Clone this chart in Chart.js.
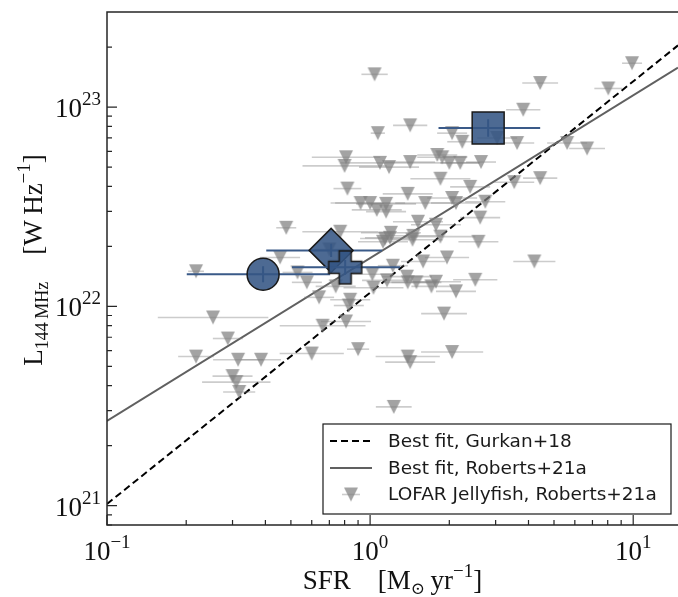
<!DOCTYPE html>
<html>
<head>
<meta charset="utf-8">
<script src="https://cdn.jsdelivr.net/npm/chart.js@4.4.0/dist/chart.umd.min.js"></script>
<style>
  html, body { margin: 0; padding: 0; background: #fff; }
  #wrap { width: 678px; height: 597px; }
</style>
</head>
<body>
<div id="wrap"><canvas id="chart" width="678" height="597"></canvas></div>
<script>
// LOFAR jellyfish, Roberts+21a: SFR [Msun/yr], L144 [W/Hz], SFR error half width [dex]
const jellySfr = [
    1.04, 1.07, 1.42, 2.05, 2.24, 3.04, 3.62, 3.82, 4.43, 8.04,
    9.9, 5.61, 6.68, 0.81, 0.80, 1.09, 1.18, 1.42, 1.80, 1.88,
    2.00, 2.20, 2.64, 0.82, 0.92, 1.00, 1.06, 1.15, 1.15, 1.39,
    1.62, 1.85, 2.05, 2.12, 2.40, 2.74, 2.62, 3.53, 4.43, 1.52,
    1.78, 0.77, 1.20, 1.14, 1.46, 2.58, 0.48, 0.455, 0.70, 0.218,
    0.53, 0.575, 0.64, 0.74, 0.84, 0.83, 0.81, 0.66, 0.60, 0.90,
    1.02, 1.16, 1.22, 1.38, 1.39, 1.50, 1.71, 1.78, 2.12, 2.51,
    1.96, 1.59, 1.12, 1.19, 1.45, 1.85, 1.91, 1.39, 1.42, 2.05,
    1.23, 4.21, 0.253, 0.288, 0.218, 0.315, 0.385, 0.30, 0.31, 0.318,
    1.03
];
const jellyLum = [
    1.46e23, 7.4e22, 8.1e22, 7.4e22, 6.7e22, 7.0e22, 6.6e22, 9.7e22, 1.32e23, 1.24e23,
    1.66e23, 6.6e22, 6.2e22, 5.6e22, 5.07e22, 5.25e22, 5.0e22, 5.3e22, 5.75e22, 5.6e22,
    5.25e22, 5.25e22, 5.3e22, 3.9e22, 3.3e22, 3.3e22, 3.05e22, 3.27e22, 2.99e22, 3.67e22,
    3.3e22, 4.37e22, 3.5e22, 3.3e22, 3.98e22, 3.35e22, 2.79e22, 4.2e22, 4.4e22, 2.66e22,
    2.57e22, 2.37e22, 2.34e22, 2.19e22, 2.26e22, 2.11e22, 2.48e22, 1.76e22, 1.93e22, 1.50e22,
    1.48e22, 1.32e22, 1.11e22, 1.26e22, 1.08e22, 1.01e22, 8.4e21, 8.0e21, 5.8e21, 6.1e21,
    1.45e22, 1.35e22, 1.60e22, 1.41e22, 1.32e22, 1.32e22, 1.26e22, 1.33e22, 1.19e22, 1.36e22,
    1.76e22, 1.68e22, 2.11e22, 2.21e22, 2.16e22, 2.24e22, 9.2e21, 5.6e21, 5.25e21, 5.9e21,
    3.13e21, 1.68e22, 8.8e21, 6.9e21, 5.6e21, 5.4e21, 5.4e21, 4.47e21, 4.17e21, 3.72e21,
    1.24e22
];
const jellyErrDex = [
    0.05, 0.027, 0.065, 0.057, 0.057, 0.076, 0.065, 0.065, 0.068, 0.053,
    0.038, 0.076, 0.068, 0.13, 0.16, 0.15, 0.114, 0.095, 0.076, 0.095,
    0.114, 0.076, 0.057, 0.053, 0.114, 0.133, 0.095, 0.114, 0.076, 0.095,
    0.114, 0.114, 0.095, 0.095, 0.076, 0.076, 0.076, 0.076, 0.065, 0.095,
    0.095, 0.144, 0.114, 0.095, 0.114, 0.076, 0.038, 0.076, 0.057, 0.03,
    0.057, 0.057, 0.057, 0.076, 0.076, 0.057, 0.095, 0.163, 0.122, 0.042,
    0.076, 0.095, 0.057, 0.095, 0.095, 0.095, 0.076, 0.095, 0.076, 0.084,
    0.084, 0.084, 0.095, 0.095, 0.114, 0.133, 0.087, 0.122, 0.095, 0.118,
    0.068, 0.08, 0.21, 0.057, 0.068, 0.095, 0.076, 0.076, 0.13, 0.061,
    0.114
];

// the four highlighted galaxies: circle, diamond, plus, square
const highSfr = [0.392, 0.711, 0.804, 2.81];
const highSfrLow = [0.201, 0.403, 0.505, 1.82];
const highSfrHigh = [0.705, 1.11, 1.30, 4.43];
const highLum = [1.45e22, 1.91e22, 1.57e22, 7.85e22];
const highLumLow = [1.32e22, 1.77e22, 1.44e22, 7.1e22];
const highLumHigh = [1.59e22, 2.06e22, 1.71e22, 8.7e22];

// best fit lines (end points at the plot edges)
const fitSfr = [0.1, 14.8];
const gurkanLum = [1.02e21, 2.04e23];
const robertsLum = [2.66e21, 1.58e23];

// tick labels
const xTicks = [0.1, 1, 10];
const xTickExp = ['\u22121', '0', '1'];
const yTicks = [1e21, 1e22, 1e23];
const yTickExp = ['21', '22', '23'];

const legendLabels = ['Best fit, Gurkan+18', 'Best fit, Roberts+21a', 'LOFAR Jellyfish, Roberts+21a'];

const blueFill = 'rgba(52, 85, 132, 0.88)';
const blueBar = '#3a5a88';
const edgeCol = '#1a1a1a';
const greyFill = 'rgba(128, 128, 128, 0.72)';
const greyBar = 'rgba(128, 128, 128, 0.4)';
const serif = '"Liberation Serif", "DejaVu Serif", serif';
const sans = '"DejaVu Sans", sans-serif';

// filled plus marker (no built-in one in Chart.js)
function makePlus(half, arm) {
    const s = Math.ceil(half * 2 + 4);
    const c = document.createElement('canvas');
    c.width = s; c.height = s;
    const g = c.getContext('2d');
    const m = s / 2;
    g.beginPath();
    g.moveTo(m - arm, m - half); g.lineTo(m + arm, m - half); g.lineTo(m + arm, m - arm);
    g.lineTo(m + half, m - arm); g.lineTo(m + half, m + arm); g.lineTo(m + arm, m + arm);
    g.lineTo(m + arm, m + half); g.lineTo(m - arm, m + half); g.lineTo(m - arm, m + arm);
    g.lineTo(m - half, m + arm); g.lineTo(m - half, m - arm); g.lineTo(m - arm, m - arm);
    g.closePath();
    g.fillStyle = blueFill; g.fill();
    g.strokeStyle = edgeCol; g.lineWidth = 1.5; g.stroke();
    return c;
}

// downward triangle, as wide as it is tall (matplotlib 'v')
function makeTri(half) {
    const s = Math.ceil(half * 2 + 2);
    const c = document.createElement('canvas');
    c.width = s; c.height = s;
    const g = c.getContext('2d');
    const m = s / 2;
    g.beginPath();
    g.moveTo(m - half, m - half); g.lineTo(m + half, m - half); g.lineTo(m, m + half);
    g.closePath();
    g.fillStyle = greyFill; g.fill();
    return c;
}
const triImg = makeTri(7);

const jellyPoints = jellySfr.map((x, i) => ({ x: x, y: jellyLum[i], e: jellyErrDex[i] }));
const highStyles = ['circle', 'rectRot', makePlus(16.5, 6), 'rect'];
const highRadius = [16, 22, 16, 22.6];
const highOrder = [2, 1, 0, 3];

const datasets = [
    {
        label: legendLabels[0],
        data: fitSfr.map((x, i) => ({ x: x, y: gurkanLum[i] })),
        showLine: true, borderColor: '#000', borderWidth: 2, borderDash: [7, 4],
        pointRadius: 0, order: 20
    },
    {
        label: legendLabels[1],
        data: fitSfr.map((x, i) => ({ x: x, y: robertsLum[i] })),
        showLine: true, borderColor: '#606060', borderWidth: 2,
        pointRadius: 0, order: 19
    },
    {
        label: legendLabels[2],
        data: jellyPoints,
        pointStyle: triImg, pointRadius: 7,
        borderWidth: 0, order: 10,
        errKind: 'grey'
    }
];
highSfr.forEach((x, i) => {
    datasets.push({
        label: 'galaxy ' + i,
        data: [{ x: x, y: highLum[i] }],
        pointStyle: highStyles[i], pointRadius: highRadius[i],
        backgroundColor: blueFill, borderColor: edgeCol, borderWidth: 1.5,
        order: highOrder[i], errKind: 'blue', galaxy: i
    });
});

// error bars, drawn just before the dataset they belong to
const errorBars = {
    id: 'errorBars',
    beforeDatasetDraw(chart, args) {
        const ds = chart.data.datasets[args.index];
        if (!ds.errKind) return;
        const ctx = chart.ctx, xs = chart.scales.x, ys = chart.scales.y;
        const a = chart.chartArea;
        ctx.save();
        ctx.beginPath();
        ctx.rect(a.left, a.top, a.right - a.left, a.bottom - a.top);
        ctx.clip();
        if (ds.errKind === 'grey') {
            ctx.strokeStyle = greyBar;
            ctx.lineWidth = 1.6;
            ds.data.forEach(p => {
                const f = Math.pow(10, p.e);
                const y = ys.getPixelForValue(p.y);
                ctx.beginPath();
                ctx.moveTo(xs.getPixelForValue(p.x / f), y);
                ctx.lineTo(xs.getPixelForValue(p.x * f), y);
                ctx.stroke();
            });
        } else {
            const i = ds.galaxy;
            const px = xs.getPixelForValue(highSfr[i]);
            const py = ys.getPixelForValue(highLum[i]);
            ctx.strokeStyle = blueBar;
            ctx.lineWidth = 2;
            ctx.beginPath();
            ctx.moveTo(xs.getPixelForValue(highSfrLow[i]), py);
            ctx.lineTo(xs.getPixelForValue(highSfrHigh[i]), py);
            ctx.moveTo(px, ys.getPixelForValue(highLumLow[i]));
            ctx.lineTo(px, ys.getPixelForValue(highLumHigh[i]));
            ctx.stroke();
        }
        ctx.restore();
    }
};

// draw text pieces with sub/superscripts: parts = [[text, size, dy], ...]
function richWidth(ctx, parts, family) {
    let w = 0;
    parts.forEach(p => { ctx.font = p[1] + 'px ' + family; w += ctx.measureText(p[0]).width; });
    return w;
}
function drawRich(ctx, parts, x, y, family) {
    let cx = x;
    ctx.textAlign = 'left';
    ctx.textBaseline = 'alphabetic';
    parts.forEach(p => {
        ctx.font = p[1] + 'px ' + family;
        ctx.fillText(p[0], cx, y + p[2]);
        cx += ctx.measureText(p[0]).width;
    });
}

const axesDeco = {
    id: 'axesDeco',
    afterDraw(chart) {
        const ctx = chart.ctx, xs = chart.scales.x, ys = chart.scales.y;
        const a = chart.chartArea;
        ctx.save();
        ctx.strokeStyle = '#262626';
        ctx.lineWidth = 1.5;
        // frame: left, bottom, top (right side is cut off)
        ctx.beginPath();
        ctx.moveTo(a.right + 2, a.top); ctx.lineTo(a.left, a.top);
        ctx.lineTo(a.left, a.bottom); ctx.lineTo(a.right + 2, a.bottom);
        ctx.stroke();

        // inward ticks
        ctx.lineWidth = 1.2;
        ctx.beginPath();
        for (let d = -1; d <= 1; d++) {
            for (let k = 1; k <= 9; k++) {
                const v = k * Math.pow(10, d);
                if (v > xs.max) continue;
                const px = xs.getPixelForValue(v);
                const len = k === 1 ? 10 : 5;
                ctx.moveTo(px, a.bottom); ctx.lineTo(px, a.bottom - len);
            }
        }
        for (let d = 20; d <= 23; d++) {
            for (let k = 1; k <= 9; k++) {
                const v = k * Math.pow(10, d);
                if (v < ys.min || v > ys.max * 0.98) continue;
                const py = ys.getPixelForValue(v);
                const len = k === 1 ? 10 : 5;
                ctx.moveTo(a.left, py); ctx.lineTo(a.left + len, py);
            }
        }
        ctx.stroke();

        // tick labels 10^n
        ctx.fillStyle = '#111';
        xTicks.forEach((v, i) => {
            const parts = [['10', 27, 0], [xTickExp[i], 19, -12]];
            const w = richWidth(ctx, parts, serif);
            drawRich(ctx, parts, xs.getPixelForValue(v) - w / 2, 560, serif);
        });
        yTicks.forEach((v, i) => {
            const parts = [['10', 27, 0], [yTickExp[i], 19, -12]];
            const w = richWidth(ctx, parts, serif);
            drawRich(ctx, parts, 101 - w, ys.getPixelForValue(v) + 10, serif);
        });

        // axis titles
        const xl = [['SFR', 27, 0], ['\u2003[M', 27, 0], ['\u2299', 17, 5], ['\u2009yr', 27, 0], ['\u22121', 19, -12], [']', 27, 0]];
        const xw = richWidth(ctx, xl, serif);
        drawRich(ctx, xl, (a.left + a.right) / 2 - xw / 2, 589, serif);

        const yl = [['L', 27, 0], ['144\u2009MHz', 18, 6], ['\u2003[W\u2009Hz', 27, 0], ['\u22121', 19, -12], [']', 27, 0]];
        const yw = richWidth(ctx, yl, serif);
        ctx.translate(42, 260);
        ctx.rotate(-Math.PI / 2);
        drawRich(ctx, yl, -yw / 2, 0, serif);
        ctx.restore();

        // legend box
        ctx.save();
        const bx = 323, by = 424, bw = 348, bh = 90;
        ctx.fillStyle = '#fff';
        ctx.fillRect(bx, by, bw, bh);
        ctx.strokeStyle = '#1a1a1a';
        ctx.lineWidth = 1.2;
        ctx.strokeRect(bx, by, bw, bh);
        const rows = [441, 468, 494.5];
        ctx.lineWidth = 2;
        ctx.strokeStyle = '#000';
        ctx.setLineDash([7, 4]);
        ctx.beginPath(); ctx.moveTo(330, rows[0]); ctx.lineTo(372, rows[0]); ctx.stroke();
        ctx.setLineDash([]);
        ctx.strokeStyle = '#606060';
        ctx.beginPath(); ctx.moveTo(330, rows[1]); ctx.lineTo(372, rows[1]); ctx.stroke();
        ctx.strokeStyle = greyBar;
        ctx.lineWidth = 1.6;
        ctx.beginPath(); ctx.moveTo(342, rows[2]); ctx.lineTo(360, rows[2]); ctx.stroke();
        ctx.drawImage(triImg, 351 - triImg.width / 2, rows[2] - triImg.height / 2);
        ctx.fillStyle = '#1a1a1a';
        ctx.font = '18.5px ' + sans;
        ctx.textAlign = 'left';
        ctx.textBaseline = 'middle';
        legendLabels.forEach((t, i) => ctx.fillText(t, 388, rows[i] + 1));
        ctx.restore();
    }
};

new Chart(document.getElementById('chart'), {
    type: 'scatter',
    data: { datasets: datasets },
    options: {
        responsive: false,
        animation: false,
        layout: { autoPadding: false, padding: { left: 107, top: 12, right: 0, bottom: 72 } },
        scales: {
            x: { type: 'logarithmic', min: 0.1, max: 14.8, display: false },
            y: { type: 'logarithmic', min: 8e20, max: 3e23, display: false }
        },
        plugins: { legend: { display: false }, tooltip: { enabled: false } }
    },
    plugins: [errorBars, axesDeco]
});
</script>
</body>
</html>
